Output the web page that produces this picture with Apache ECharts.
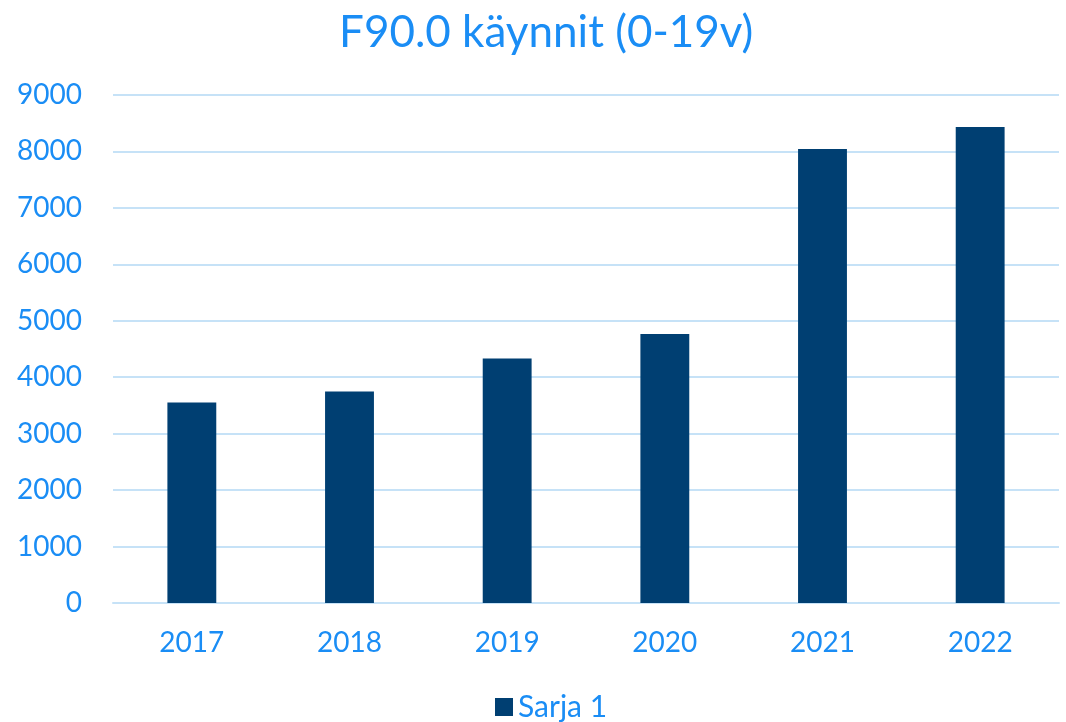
<!DOCTYPE html>
<html>
<head>
<meta charset="utf-8">
<script src="https://cdn.jsdelivr.net/npm/echarts@6/dist/echarts.min.js"></script>
<style>
  html, body { margin: 0; padding: 0; background: #ffffff; }
  #chart { width: 1066px; height: 722px; }
</style>
</head>
<body>
<div id="chart"></div>
<script>
// Visit counts per year, series "Sarja 1"
const years = ['2017', '2018', '2019', '2020', '2021', '2022'];
const visits = [3552, 3747, 4330, 4765, 8042, 8431];
const seriesName = 'Sarja 1';
const titleText = 'F90.0 käynnit (0-19v)';

const textBlue = '#1a8df5';
const barBlue = '#003f72';
const gridBlue = '#c6e2f7';
const fontFamily = 'Lato, "Open Sans", sans-serif';

const chart = echarts.init(document.getElementById('chart'));
chart.setOption({
  backgroundColor: '#ffffff',
  animation: false,
  title: {
    text: titleText,
    left: 334,
    top: 6,
    textStyle: { color: textBlue, fontSize: 44, fontWeight: 'normal', fontFamily: fontFamily }
  },
  legend: {
    data: [seriesName],
    top: 690,
    left: 495,
    padding: 0,
    icon: 'rect',
    itemWidth: 18,
    itemHeight: 18,
    itemGap: 6,
    textStyle: { color: textBlue, fontSize: 30, fontFamily: fontFamily, lineHeight: 34 }
  },
  grid: { left: 113, right: 7, top: 95, bottom: 119, containLabel: false },
  xAxis: {
    type: 'category',
    data: years,
    axisLine: { lineStyle: { color: gridBlue, width: 2 } },
    axisTick: { show: false },
    axisLabel: { color: textBlue, fontSize: 28, fontFamily: fontFamily, margin: 26 }
  },
  yAxis: {
    type: 'value',
    min: 0,
    max: 9000,
    interval: 1000,
    axisLine: { show: false },
    axisTick: { show: false },
    splitLine: { lineStyle: { color: gridBlue, width: 2 } },
    axisLabel: {
      color: textBlue, fontSize: 28, fontFamily: fontFamily, margin: 31,
      formatter: function (v) { return String(v); }
    }
  },
  series: [{
    name: seriesName,
    type: 'bar',
    data: visits,
    barWidth: '31%',
    itemStyle: { color: barBlue }
  }]
});
</script>
</body>
</html>
